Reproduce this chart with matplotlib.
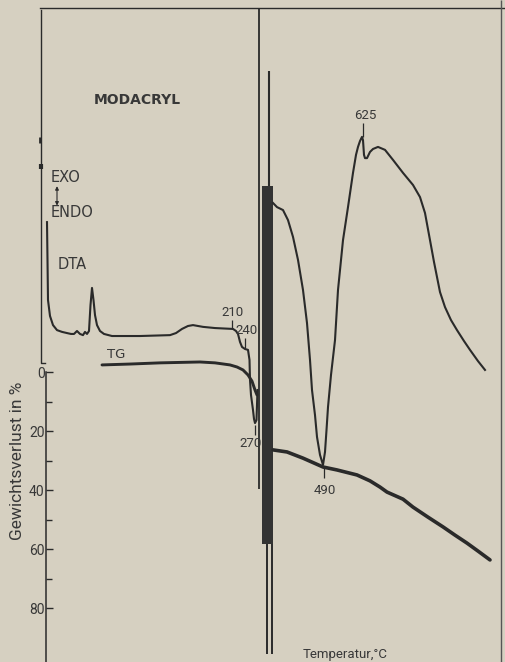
import numpy as np
import matplotlib
matplotlib.use('Agg')
import matplotlib.pyplot as plt

# --- DATA ---
# x: position along the temperature axis (chart units), y: weight-loss scale in %
dta_left_x = [3, 3.5, 4, 6, 9, 13, 18, 23, 27, 30, 33, 36, 39, 41, 43, 45, 46.5, 48, 49.5,
              51, 53, 56, 60, 68, 96, 126, 132, 138, 144, 149, 154, 159, 171, 189, 192, 194,
              196, 198, 201, 204, 205.5, 206, 207, 209, 210, 211, 212.5, 213, 213.5]
dta_left_y = [-50.8, -38.0, -24.4, -19.0, -15.9, -14.2, -13.6, -13.2, -12.9, -12.9, -13.9,
              -12.9, -12.5, -13.6, -12.9, -13.9, -22.7, -28.5, -24.4, -19.3, -15.9, -13.9,
              -12.9, -12.2, -12.2, -12.5, -13.2, -14.6, -15.6, -15.9, -15.6, -15.3, -14.9,
              -14.6, -13.9, -12.9, -10.2, -8.5, -7.8, -7.5, -4.1, 2.7, 7.8, 12.9, 15.9, 17.3,
              16.3, 11.2, 6.1]

dta_right_x = [229, 233, 239, 244, 249, 254, 259, 263, 266, 268, 271, 273, 276, 279, 281,
               282.5, 284, 287, 291, 294, 299, 304, 309, 312, 314, 316, 318, 319, 320, 321,
               323, 326, 329, 334, 341, 349, 359, 369, 376, 381, 386, 390, 393, 396, 401,
               407, 413, 420, 426, 434, 441]
dta_right_y = [-57.3, -55.9, -54.9, -51.5, -45.8, -38.0, -27.8, -16.6, -4.1, 6.1, 14.6, 22.0,
               28.1, 31.5, 27.1, 19.7, 11.9, 1.0, -10.8, -27.8, -44.7, -55.9, -67.5, -73.6,
               -76.3, -78.3, -79.7, -78.6, -73.6, -72.5, -72.5, -74.6, -75.6, -76.3, -75.3,
               -71.9, -67.5, -63.4, -59.3, -53.9, -44.7, -37.3, -32.2, -27.1, -22.0, -17.6,
               -14.2, -10.5, -7.5, -3.7, -0.7]

tg_left_x = [58, 86, 116, 156, 171, 186, 193, 199, 204, 208, 211, 213]
tg_left_y = [-2.4, -2.7, -3.1, -3.4, -3.1, -2.4, -1.7, -0.7, 1.0, 3.1, 6.1, 7.8]

tg_right_x = [229, 243, 259, 279, 293, 313, 326, 336, 343, 359, 369, 384, 399, 411, 423,
              434, 446]
tg_right_y = [26.4, 27.1, 29.2, 32.2, 33.2, 34.9, 36.9, 39.0, 40.7, 43.1, 45.8, 49.2, 52.5,
              55.3, 58.0, 60.7, 63.7]

# peak temperatures: label, x, leader top/bottom, text position
peak_labels = ['210', '240', '270', '490', '625']
peak_x = [188, 201, 211, 280, 319]
peak_lead = [(-17.6, -14.6), (-11.5, -8.1), (18.0, 21.4), (32.5, 35.9), (-84.4, -79.7)]
peak_text_x = [189, 203, 207, 281, 321]
peak_text_y = [-20.3, -14.2, 24.4, 40.0, -87.1]

tg_ticks = [0, 20, 40, 60, 80]
tg_minor = [10, 30, 50, 70]

# --- STYLE ---
paper = '#d6d0c1'
ink = '#2a2a2a'
txt = '#383838'
narrow = ['Roboto', 'DejaVu Sans']

fig = plt.figure(figsize=(5.05, 6.62), dpi=100, facecolor=paper)
ax = fig.add_axes([0, 0, 1, 1])
ax.set_facecolor(paper)
ax.set_xlim(-44, 461)
ax.set_ylim(98.3, -126.1)

# curves
ax.plot(dta_left_x, dta_left_y, color=ink, lw=1.5, solid_joinstyle='round')
ax.plot(dta_right_x, dta_right_y, color=ink, lw=1.5, solid_joinstyle='round')
ax.plot(tg_left_x, tg_left_y, color=ink, lw=2.1, solid_capstyle='round')
ax.plot(tg_right_x, tg_right_y, color=ink, lw=2.6, solid_capstyle='round')

# recorder pen band in the middle
ax.vlines(215, -123.4, 39.7, color=ink, lw=1.3)
ax.vlines(225, -102.0, -63.1, color=ink, lw=1.5)
ax.fill_betweenx([-63.1, 58.3], 218, 229, color='#333333', lw=0)
ax.vlines([222.5, 227.5], 58.3, 95.6, color=ink, lw=1.4)

# frame
ax.plot([-4, 461], [-123.4, -123.4], color=ink, lw=1.0)
ax.vlines(457, -126, 98.3, color='#555555', lw=1.0)
ax.plot([-3, -3, 1], [-122.7, -3.1, -3.1], color=ink, lw=1.0)
ax.vlines(-4, -79.7, -77.6, color=ink, lw=2.0)
ax.vlines(-3.5, -70.4, -68.8, color=ink, lw=3.0)

# TG axis
for s in ['top', 'right', 'bottom']:
    ax.spines[s].set_visible(False)
ax.spines['left'].set_position(('data', 2))
ax.spines['left'].set_bounds(0, 98.3)
ax.spines['left'].set_color(ink)
ax.spines['left'].set_linewidth(1.1)
ax.set_xticks([])
ax.set_yticks(tg_ticks)
ax.set_yticks(tg_minor, minor=True)
ax.tick_params(axis='y', which='major', direction='in', length=5, width=1.0,
               color=ink, pad=1, labelsize=10, labelcolor=txt)
ax.tick_params(axis='y', which='minor', direction='in', length=4, width=1.0, color=ink)
for lab in ax.get_yticklabels():
    lab.set_family(narrow)

ax.text(-26, 30, 'Gewichtsverlust in %', rotation=90, ha='center', va='center',
        fontsize=12.5, color=txt, family=narrow)
ax.text(301, 95.9, 'Temperatur,°C', ha='center', va='center', fontsize=9.5,
        color=txt, family=narrow)

# labels
ax.text(93, -92.2, 'MODACRYL', ha='center', va='center', fontsize=10,
        fontweight='bold', color=txt)
ax.text(22, -66.1, 'EXO', ha='center', va='center', fontsize=10.5, color=txt)
ax.text(28, -53.9, 'ENDO', ha='center', va='center', fontsize=10.5, color=txt)
ax.annotate('', xy=(13, -63.0), xytext=(13, -56.4),
            arrowprops=dict(arrowstyle='<|-|>', color=ink, lw=0.8,
                            mutation_scale=5, shrinkA=0, shrinkB=0))
ax.text(28, -36.3, 'DTA', ha='center', va='center', fontsize=10.5, color=txt)
ax.text(72, -5.8, 'TG', ha='center', va='center', fontsize=9.5, color=txt)

for lab, x, (y0, y1), tx, ty in zip(peak_labels, peak_x, peak_lead, peak_text_x, peak_text_y):
    ax.vlines(x, y0, y1, color=ink, lw=0.9)
    ax.text(tx, ty, lab, ha='center', va='center', fontsize=9.5, color=txt, family=narrow)

fig.savefig('out.png', dpi=100, facecolor=paper)
